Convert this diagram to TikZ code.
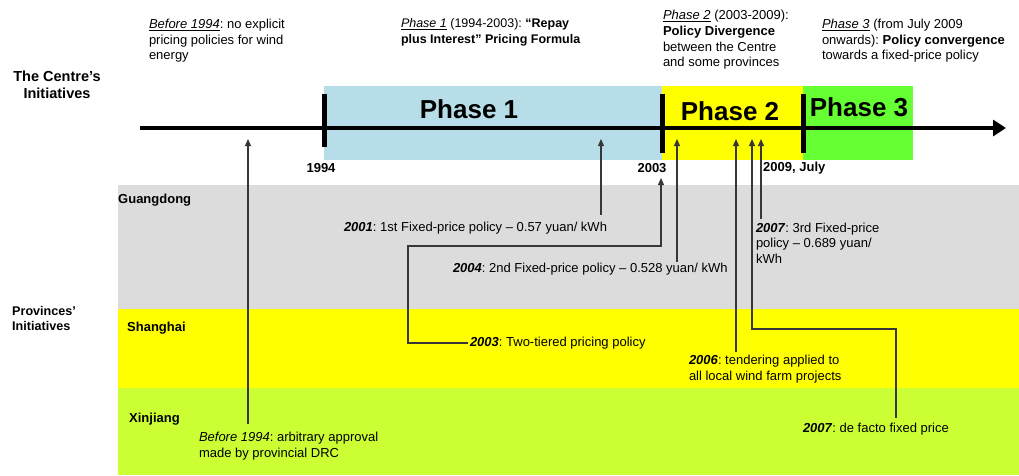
\documentclass[tikz,border=0pt]{standalone}
\usepackage{fontspec}
\setmainfont{Liberation Sans}
\usetikzlibrary{arrows.meta}
\definecolor{bandgray}{RGB}{220,220,220}
\definecolor{bandyellow}{RGB}{255,255,0}
\definecolor{bandlime}{RGB}{204,255,51}
\definecolor{phaseone}{RGB}{183,222,232}
\definecolor{phasetwo}{RGB}{255,255,0}
\definecolor{phasethree}{RGB}{102,255,51}
\definecolor{connc}{RGB}{55,55,55}
\frenchspacing
\begin{document}
\begin{tikzpicture}[x=1pt,y=-1pt,
  txt/.style={font=\fontsize{13}{15.6}\selectfont, inner sep=0pt, outer sep=0pt, align=left},
  smalltxt/.style={txt, font=\fontsize{12.5}{16}\selectfont},
  lab/.style={font=\fontsize{13}{15.6}\selectfont\bfseries, inner sep=0pt, align=left},
  sidelab/.style={font=\fontsize{14.5}{17}\selectfont\bfseries, inner sep=0pt, align=center},
  phaselab/.style={font=\fontsize{26}{30}\selectfont\bfseries, inner sep=0pt},
  conn/.style={draw=connc, line width=1.2pt, -{Triangle[length=7pt,width=6pt]}},
  tickmark/.style={line width=5pt},
]
\useasboundingbox (0,0) rectangle (1019,475);
% province bands
\fill[bandgray]   (118,185) rectangle (1019,309);
\fill[bandyellow] (118,309) rectangle (1019,388);
\fill[bandlime]   (118,388) rectangle (1019,475);
% phase boxes
\fill[phaseone]   (324,86) rectangle (662,160);
\fill[phasetwo]   (662,86) rectangle (803,160);
\fill[phasethree] (803,86) rectangle (913,160);
\node[phaselab] (p1) at (469,109) {Phase 1};
\node[phaselab] (p2) at (730,111) {Phase 2};
\node[phaselab] (p3) at (859,107) {Phase 3};
% timeline
\coordinate (tl0) at (140,128);
\coordinate (tl1) at (1006,128);
\draw[line width=4pt, -{Triangle[length=13pt,width=16pt]}] (tl0) -- (tl1);
\draw[tickmark] (324,94) -- (324,147);
\draw[tickmark] (662,94) -- (662,153);
\draw[tickmark] (803,94) -- (803,153);
\node[lab] (y1994) at (321,168) {1994};
\node[lab] (y2003) at (652,168) {2003};
\node[lab, anchor=west] (y2009) at (763,168) {2009, July};
% side labels
\node[sidelab] (centre) at (57,85) {The Centre's\\Initiatives};
\node[lab, anchor=west, font=\fontsize{12.6}{15}\selectfont\bfseries] (prov) at (12,318) {Provinces'\\Initiatives};
\node[lab, anchor=west] (gd) at (118,200) {Guangdong};
\node[lab, anchor=west] (sh) at (127,328) {Shanghai};
\node[lab, anchor=west] (xj) at (129,419) {Xinjiang};
% top descriptions
\node[txt, anchor=west] (d0) at (149,41) {\underline{\textit{Before 1994}}: no explicit\\pricing policies for wind\\energy};
\node[smalltxt, anchor=west] (d1) at (401,32) {\underline{\textit{Phase 1}} (1994-2003): \textbf{“Repay}\\\textbf{plus Interest” Pricing Formula}};
\node[txt, anchor=west] (d2) at (663,40) {\underline{\textit{Phase 2}} (2003-2009):\\\textbf{Policy Divergence}\\between the Centre\\and some provinces};
\node[txt, anchor=west] (d3) at (822,41) {\underline{\textit{Phase 3}} (from July 2009\\onwards): \textbf{Policy convergence}\\towards a fixed-price policy};
% arrow targets on the timeline
\coordinate (a1994) at (248,139);
\coordinate (a2001) at (601,139);
\coordinate (a2003) at (661,178);
\coordinate (a2004) at (677,139);
\coordinate (a2006) at (736,139);
\coordinate (a2007b) at (752,139);
\coordinate (a2007a) at (761,139);
\coordinate (k2003) at (408,246);
\coordinate (k2007b) at (896,329);
% event texts
\node[txt, anchor=west] (t2001) at (344,228) {\textbf{\textit{2001}}: 1st Fixed-price policy – 0.57 yuan/ kWh};
\node[txt, anchor=west] (t2004) at (453,269) {\textbf{\textit{2004}}: 2nd Fixed-price policy – 0.528 yuan/ kWh};
\node[txt, anchor=west] (t2003) at (470,343) {\textbf{\textit{2003}}: Two-tiered pricing policy};
\node[txt, anchor=west] (t2007a) at (756,243) {\textbf{\textit{2007}}: 3rd Fixed-price\\policy – 0.689 yuan/\\kWh};
\node[txt, anchor=west] (t2006) at (689,369) {\textbf{\textit{2006}}: tendering applied to\\all local wind farm projects};
\node[txt, anchor=west] (t2007b) at (803,429) {\textbf{\textit{2007}}: de facto fixed price};
\node[txt, anchor=west] (tdrc) at (199,446) {\textit{Before 1994}: arbitrary approval\\made by provincial DRC};
% connectors
\draw[conn, shorten <=8pt] (tdrc.north -| a1994) -- (a1994);
\draw[conn, shorten <=7pt] (t2001.north -| a2001) -- (a2001);
\draw[conn, shorten <=2pt] (t2003.west) -| (k2003) -| (a2003);
\draw[conn, shorten <=1pt] (t2004.north -| a2004) -- (a2004);
\draw[conn, shorten <=3pt] (t2006.north -| a2006) -- (a2006);
\draw[conn, shorten <=5pt] (t2007b.north -| k2007b) -- (k2007b) -| (a2007b);
\draw[conn, shorten <=4pt] (t2007a.north -| a2007a) -- (a2007a);
\end{tikzpicture}
\end{document}
